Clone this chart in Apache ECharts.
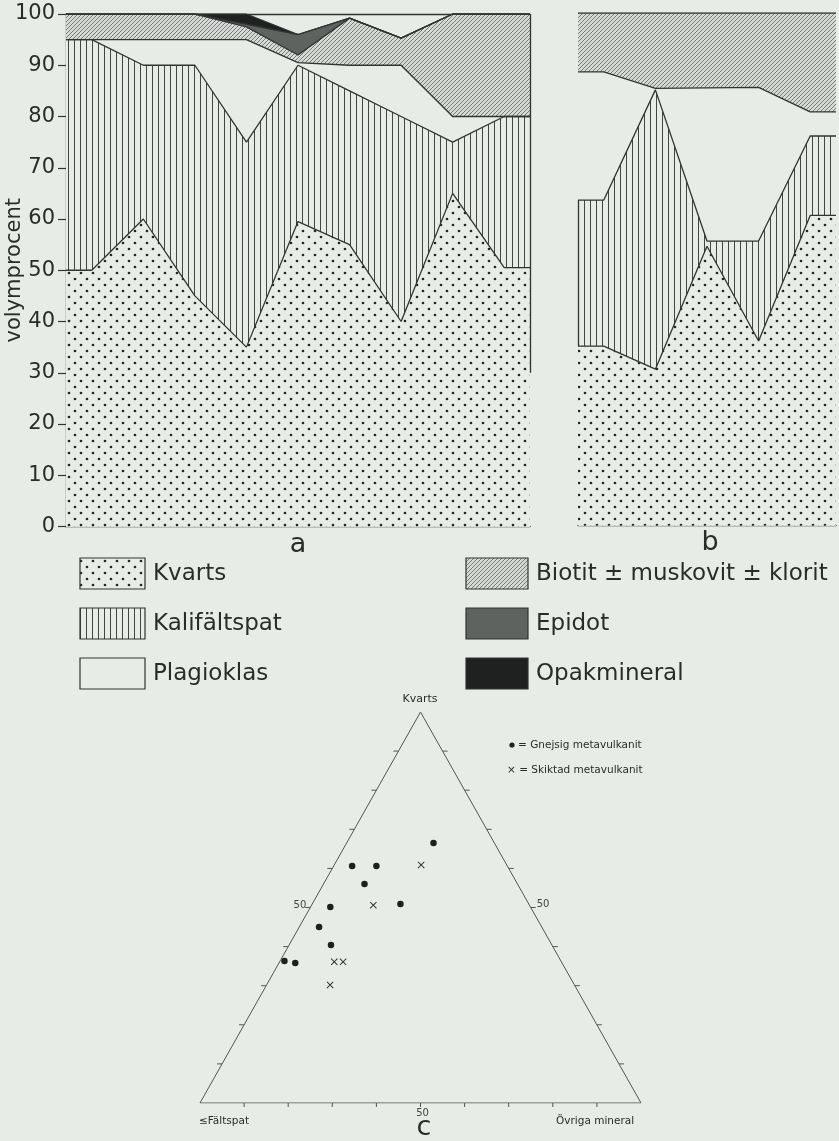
<!DOCTYPE html>
<html>
<head>
<meta charset="utf-8">
<script src="https://cdn.jsdelivr.net/npm/echarts@6/dist/echarts.min.js"></script>
<style>html,body{margin:0;padding:0;background:#e7ece6}</style>
</head>
<body>
<div id="main" style="width:839px;height:1141px"></div>
<script>
// a: nio prov, volymprocent per mineral
const provA = [1, 2, 3, 4, 5, 6, 7, 8, 9]
const kvartsA = [50, 60, 45, 35, 59.5, 55, 40, 65, 50.5]
const kalifaltspatA = [45, 30, 45, 40, 30.5, 30, 40, 10, 29.5]
const plagioklasA = [0, 5, 5, 20, 0.5, 5, 10, 5, 0]
const biotitA = [5, 5, 5, 2.5, 1.5, 9.2, 5.3, 20, 20]
const epidotA = [0, 0, 0, 0.5, 4, 0, 0, 0, 0]
const opakA = [0, 0, 0, 2, 0, 0, 0, 0, 0]

// b: fem prov
const provB = [1, 2, 3, 4, 5]
const kvartsB = [35, 30.5, 54.5, 36, 60.5]
const kalifaltspatB = [28.5, 54.5, 1, 19.5, 15.5]
const plagioklasB = [25, 0.3, 29.9, 30, 4.7]
const biotitB = [11.5, 14.7, 14.6, 14.5, 19.3]

const yTicks = [0, 10, 20, 30, 40, 50, 60, 70, 80, 90, 100]

// c: [kvarts, fältspat, övriga]
const gnejsig = [[66.5, 13.8, 19.7], [60.6, 35.2, 4.2], [60.6, 29.7, 9.7], [56, 34.7, 9.3], [50.1, 45.4, 4.5],
  [50.9, 29.1, 20], [45, 50.5, 4.5], [40.4, 50.1, 9.5], [36.3, 62.7, 1], [35.8, 60.5, 3.7]]
const skiktad = [[60.9, 19.4, 19.7], [50.6, 35.4, 14], [36.1, 51.5, 12.4], [36.1, 49.5, 14.4], [30.2, 55.4, 14.4]]
const ternTicks = [10, 20, 30, 40, 50, 60, 70, 80, 90]

const FONT = "'DejaVu Sans', sans-serif"
const INK = '#2b2b2b'
const BG = '#e7ece6'

function pattern(w, h, draw) {
  const c = document.createElement('canvas')
  c.width = w
  c.height = h
  const ctx = c.getContext('2d')
  ctx.fillStyle = BG
  ctx.fillRect(0, 0, w, h)
  draw(ctx)
  return {image: c, repeat: 'repeat'}
}
const fills = {
  kvarts: pattern(12, 12, ctx => {
    ctx.fillStyle = '#262626'
    ctx.beginPath(); ctx.arc(3, 3, 1.35, 0, 7); ctx.fill()
    ctx.beginPath(); ctx.arc(9, 9, 1.35, 0, 7); ctx.fill()
  }),
  kali: pattern(6, 6, ctx => {
    ctx.fillStyle = '#444'
    ctx.fillRect(2, 0, 1, 6)
  }),
  plag: BG,
  biotit: pattern(4, 4, ctx => {
    ctx.fillStyle = '#d6dad5'
    ctx.fillRect(0, 0, 4, 4)
    ctx.strokeStyle = '#6e6e6e'
    ctx.lineWidth = 0.9
    ctx.beginPath()
    ctx.moveTo(-1, 5); ctx.lineTo(5, -1)
    ctx.moveTo(-1, 1); ctx.lineTo(1, -1)
    ctx.moveTo(3, 5); ctx.lineTo(5, 3)
    ctx.stroke()
  }),
  epidot: '#5f635f',
  opak: '#1e2120'
}

// running sums give each mineral's upper boundary
function cumulate(layers) {
  let run = layers[0].map(() => 0)
  return layers.map(l => (run = run.map((s, i) => s + l[i])))
}
function edge(prov, vals) {
  const n = vals.length
  const out = [[prov[0] - 0.5, vals[0]]]
  vals.forEach((v, i) => out.push([prov[i], v]))
  out.push([prov[n - 1] + 0.5, vals[n - 1]])
  return out
}
function layers(names, vals, prov, xi, yi, fillList) {
  const cum = cumulate(vals)
  const out = names.map((name, i) => ({
    name, type: 'line', xAxisIndex: xi, yAxisIndex: yi, symbol: 'none', silent: true,
    data: edge(prov, cum[i]),
    lineStyle: {color: '#333', width: 1.3},
    areaStyle: {color: fillList[i], opacity: 1, origin: 'start'}
  }))
  // top layers first, lower ones paint over them
  return out.reverse()
}

const namesA = ['Kvarts', 'Kalifältspat', 'Plagioklas', 'Biotit ± muskovit ± klorit', 'Epidot', 'Opakmineral']
const seriesA = layers(namesA, [kvartsA, kalifaltspatA, plagioklasA, biotitA, epidotA, opakA], provA, 0, 0,
  [fills.kvarts, fills.kali, fills.plag, fills.biotit, fills.epidot, fills.opak])
seriesA[seriesA.length - 1].markLine = {
  silent: true, symbol: 'none', label: {show: false},
  lineStyle: {color: '#333', width: 1.3, type: 'solid'},
  data: [[{coord: [provA.length + 0.5, 30]}, {coord: [provA.length + 0.5, 100]}]]
}
const seriesB = layers(namesA.slice(0, 4), [kvartsB, kalifaltspatB, plagioklasB, biotitB], provB, 2, 1,
  [fills.kvarts, fills.kali, fills.plag, fills.biotit])
seriesB[seriesB.length - 1].markLine = {
  silent: true, symbol: 'none', label: {show: false},
  lineStyle: {color: '#333', width: 1.3, type: 'solid'},
  data: [[{coord: [0.5, kvartsB[0]]}, {coord: [0.5, kvartsB[0] + kalifaltspatB[0]]}]]
}

function toXY(p) {
  return [p[2] + p[0] / 2, p[0]]
}
const seriesC = [
  {
    type: 'line', xAxisIndex: 3, yAxisIndex: 2, symbol: 'none', silent: true,
    data: [[100, 0, 0], [0, 100, 0], [0, 0, 100], [100, 0, 0]].map(toXY),
    lineStyle: {color: '#555', width: 1}
  },
  {
    type: 'custom', xAxisIndex: 3, yAxisIndex: 2, silent: true,
    data: ternTicks.map(k => [k, 0]),
    renderItem(params, api) {
      const k = api.value(0)
      const L = api.coord([k / 2, k])
      const R = api.coord([100 - k / 2, k])
      const B = api.coord([k, 0])
      const st = {stroke: '#555', lineWidth: 1}
      const ch = [
        {type: 'line', shape: {x1: L[0], y1: L[1], x2: L[0] - 5, y2: L[1]}, style: st},
        {type: 'line', shape: {x1: R[0], y1: R[1], x2: R[0] + 5, y2: R[1]}, style: st},
        {type: 'line', shape: {x1: B[0], y1: B[1], x2: B[0], y2: B[1] + 4}, style: st}
      ]
      if (k === 50) {
        const ts = {font: '10px ' + FONT, fill: '#444', text: '50'}
        ch.push({type: 'text', style: Object.assign({x: L[0] - 4, y: L[1] - 2, align: 'right', verticalAlign: 'middle'}, ts)})
        ch.push({type: 'text', style: Object.assign({x: R[0] + 6, y: R[1] - 3, align: 'left', verticalAlign: 'middle'}, ts)})
        ch.push({type: 'text', style: Object.assign({x: B[0] + 2, y: B[1] + 10, align: 'center', verticalAlign: 'middle'}, ts)})
      }
      return {type: 'group', children: ch}
    }
  },
  {
    name: 'Gnejsig metavulkanit', type: 'scatter', xAxisIndex: 3, yAxisIndex: 2, silent: true,
    symbol: 'circle', symbolSize: 6.5, itemStyle: {color: '#1f1f1f', opacity: 1},
    data: gnejsig.map(toXY)
  },
  {
    name: 'Skiktad metavulkanit', type: 'scatter', xAxisIndex: 3, yAxisIndex: 2, silent: true,
    symbol: 'path://M0,1L1,0L5,4L9,0L10,1L6,5L10,9L9,10L5,6L1,10L0,9L4,5Z', symbolSize: 7,
    itemStyle: {color: '#2a2a2a', opacity: 1},
    data: skiktad.map(toXY)
  }
]

const legendRows = [
  ['Kvarts', fills.kvarts, 80, 558, 65], ['Kalifältspat', fills.kali, 80, 608, 65], ['Plagioklas', fills.plag, 80, 658, 65],
  ['Biotit ± muskovit ± klorit', fills.biotit, 466, 558, 62], ['Epidot', fills.epidot, 466, 608, 62], ['Opakmineral', fills.opak, 466, 658, 62]
]
const graphic = []
legendRows.forEach(r => {
  graphic.push({type: 'rect', shape: {x: r[2], y: r[3], width: r[4], height: 31}, style: {fill: r[1], stroke: '#333', lineWidth: 1.2}})
  graphic.push({type: 'text', style: {x: r[2] + r[4] + 8, y: r[3] + 16, text: r[0], font: '23px ' + FONT, fill: INK, textAlign: 'left', textVerticalAlign: 'middle'}})
})
const txt = (s, x, y, size, align) => ({type: 'text', style: {x, y, text: s, font: size + 'px ' + FONT, fill: INK, textAlign: align || 'center', textVerticalAlign: 'middle'}})
graphic.push(txt('a', 298, 545, 27), txt('b', 710, 543, 27), txt('c', 424, 1128, 27))
graphic.push(txt('Kvarts', 420, 699, 11), txt('≤Fältspat', 199, 1121, 10.5, 'left'), txt('Övriga mineral', 556, 1121, 10.5, 'left'))
graphic.push({type: 'circle', shape: {cx: 512, cy: 745, r: 2.6}, style: {fill: '#222'}})
graphic.push(txt('= Gnejsig metavulkanit', 518, 745, 10.5, 'left'))
graphic.push(txt('× = Skiktad metavulkanit', 507, 770, 10.5, 'left'))

const hidden = {show: false}
const frame = {show: true, onZero: false, lineStyle: {color: '#333', width: 1.3}}
const option = {
  backgroundColor: BG,
  animation: false,
  grid: [
    {left: 66, top: 14, width: 464, height: 512.5, outerBoundsMode: 'none'},
    {left: 578, top: 13, width: 258, height: 512.5, outerBoundsMode: 'none'},
    {left: 200, top: 712, width: 441, height: 391, outerBoundsMode: 'none'}
  ],
  xAxis: [
    {type: 'value', gridIndex: 0, min: 0.5, max: provA.length + 0.5, axisLine: frame, axisTick: hidden, axisLabel: hidden, splitLine: hidden},
    {type: 'value', gridIndex: 0, position: 'top', min: 0.5, max: provA.length + 0.5, axisLine: frame, axisTick: hidden, axisLabel: hidden, splitLine: hidden},
    {type: 'value', gridIndex: 1, min: 0.5, max: provB.length + 0.5, axisLine: frame, axisTick: hidden, axisLabel: hidden, splitLine: hidden},
    {type: 'value', gridIndex: 2, min: 0, max: 100, show: false}
  ],
  yAxis: [
    {type: 'value', gridIndex: 0, min: 0, max: 100, interval: 10,
      name: 'volymprocent', nameLocation: 'middle', nameGap: 41, nameRotate: 90, nameMoveOverlap: false,
      nameTextStyle: {fontFamily: FONT, fontSize: 21, color: INK},
      axisLine: {show: true, lineStyle: {color: '#333', width: 1.3}},
      axisTick: {show: true, length: 8, lineStyle: {color: '#333', width: 1.2}},
      axisLabel: {margin: 11, fontFamily: FONT, fontSize: 21, color: INK, formatter: v => yTicks.includes(v) ? String(v) : ''},
      splitLine: hidden},
    {type: 'value', gridIndex: 1, min: 0, max: 100, show: false},
    {type: 'value', gridIndex: 2, min: 0, max: 100, show: false}
  ],
  series: seriesA.concat(seriesB, seriesC),
  graphic
}

const chart = echarts.init(document.getElementById('main'))
chart.setOption(option)
</script>
</body>
</html>
